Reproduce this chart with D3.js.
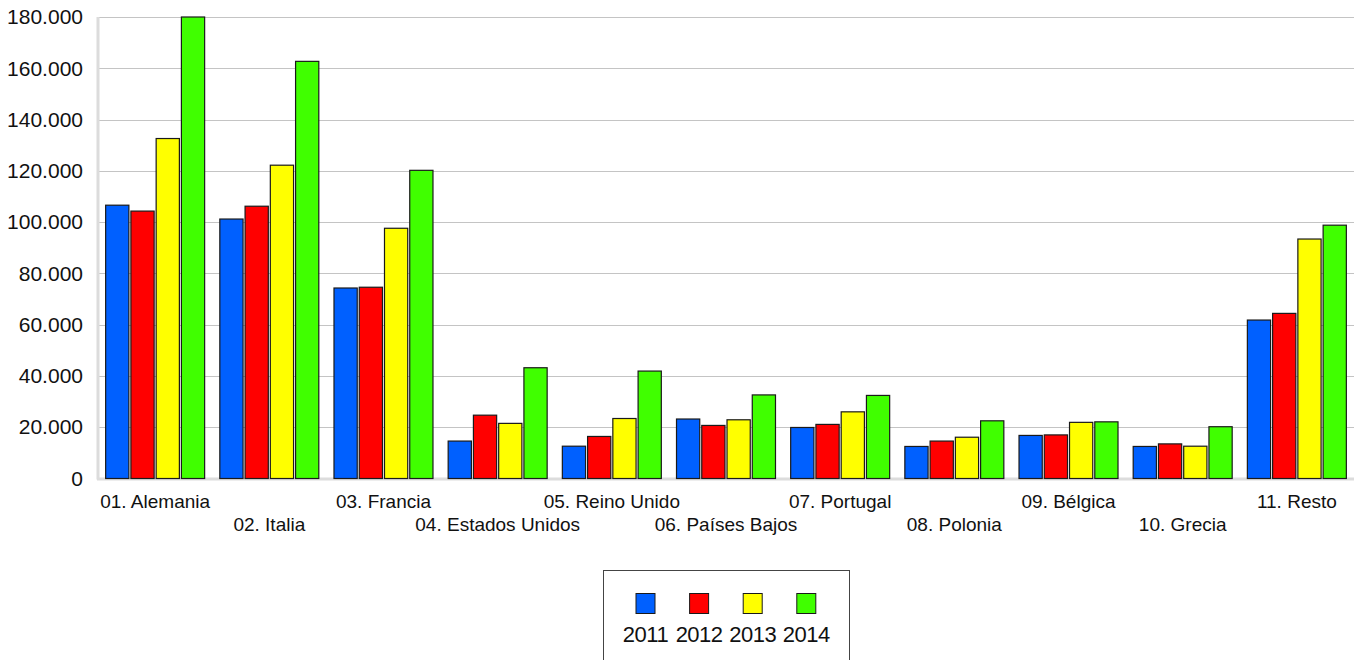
<!DOCTYPE html>
<html>
<head>
  <meta charset="utf-8">
  <title>Grouped bars</title>
  <script src="https://d3js.org/d3.v7.min.js"></script>
  <style>
    body { margin: 0; background: #fff; }
    text { font-family: "Liberation Sans", Arial, sans-serif; fill: #111; }
  </style>
</head>
<body>
<div id="chart"></div>
<script type="text/javascript">
  let w = 1354;
  let h = 660;

  let categories = ['01. Alemania', '02. Italia', '03. Francia', '04. Estados Unidos',
                    '05. Reino Unido', '06. Países Bajos', '07. Portugal', '08. Polonia',
                    '09. Bélgica', '10. Grecia', '11. Resto'];
  let years = ['2011', '2012', '2013', '2014'];
  let colors = ['#0060ff', '#ff0000', '#ffff00', '#40ff00'];

  let v2011 = [106600, 101200, 74300, 14600, 12600, 23200, 19900, 12500, 16800, 12500, 61800];
  let v2012 = [104300, 106200, 74600, 24700, 16400, 20700, 21100, 14600, 17000, 13500, 64400];
  let v2013 = [132600, 122200, 97600, 21500, 23400, 22900, 26000, 16100, 21900, 12600, 93400];
  let v2014 = [180000, 162700, 120200, 43200, 41900, 32600, 32400, 22500, 22100, 20200, 98800];
  let series = [v2011, v2012, v2013, v2014];

  let yTicks = d3.range(0, 180001, 20000);

  let plotLeft = 98, plotRight = 1354, plotTop = 17, plotBottom = 478.5;

  let xScale = d3.scaleBand()
                 .domain(categories)
                 .range([plotLeft, plotRight])
                 .paddingInner(0.133)
                 .paddingOuter(0.067);

  let xInner = d3.scaleBand()
                 .domain(years)
                 .range([0, xScale.bandwidth()])
                 .paddingInner(0.08)
                 .paddingOuter(0);

  let yScale = d3.scaleLinear()
                 .domain([0, 180000])
                 .range([plotBottom, plotTop]);

  let fmt = d => d3.format(',')(d).replace(/,/g, '.');

  let svg = d3.select('#chart')
              .append('svg')
              .attr('width', w)
              .attr('height', h);

  // grid
  svg.append('g')
     .selectAll('line')
     .data(yTicks.filter(d => d > 0))
     .enter()
     .append('line')
     .attr('x1', plotLeft)
     .attr('x2', plotRight)
     .attr('y1', d => Math.round(yScale(d)) + 0.5)
     .attr('y2', d => Math.round(yScale(d)) + 0.5)
     .attr('stroke', '#c4c4c4')
     .attr('stroke-width', 1);

  // y axis labels
  let yAxis = d3.axisLeft(yScale).tickValues(yTicks).tickFormat(fmt).tickSize(0).tickPadding(15);
  let gy = svg.append('g')
     .attr('transform', `translate(${plotLeft},0)`)
     .call(yAxis);
  gy.select('.domain').remove();
  gy.selectAll('text')
    .attr('font-size', '21px')
    .attr('font-family', '"Liberation Sans", Arial, sans-serif')
    .attr('fill', '#111');

  // axis lines
  svg.append('line')
     .attr('x1', plotLeft).attr('x2', plotLeft)
     .attr('y1', plotTop).attr('y2', plotBottom + 1)
     .attr('stroke', '#dcdcdc').attr('stroke-width', 3);
  svg.append('line')
     .attr('x1', plotLeft - 1).attr('x2', plotRight)
     .attr('y1', plotBottom + 0.5).attr('y2', plotBottom + 0.5)
     .attr('stroke', '#dcdcdc').attr('stroke-width', 3);

  // bars
  let groups = svg.append('g')
     .selectAll('g')
     .data(categories)
     .enter()
     .append('g')
     .attr('transform', d => `translate(${xScale(d)},0)`);

  groups.selectAll('rect')
     .data((c, i) => years.map((y, j) => ({ year: y, value: series[j][i], color: colors[j] })))
     .enter()
     .append('rect')
     .attr('x', d => xInner(d.year))
     .attr('y', d => yScale(d.value))
     .attr('width', xInner.bandwidth())
     .attr('height', d => yScale(0) - yScale(d.value))
     .attr('fill', d => d.color)
     .attr('stroke', '#1a1a1a')
     .attr('stroke-width', 1.2);

  // x labels, staggered
  svg.append('g')
     .selectAll('text')
     .data(categories)
     .enter()
     .append('text')
     .attr('x', d => xScale(d) + xScale.bandwidth() / 2)
     .attr('y', (d, i) => i % 2 === 0 ? 508 : 531)
     .attr('text-anchor', 'middle')
     .attr('font-size', '19px')
     .text(d => d);

  // legend
  svg.append('rect')
     .attr('x', 603.5).attr('y', 570.5)
     .attr('width', 246).attr('height', 120)
     .attr('fill', 'none')
     .attr('stroke', '#444')
     .attr('stroke-width', 1);

  let legend = svg.append('g')
     .selectAll('g')
     .data(years)
     .enter()
     .append('g')
     .attr('transform', (d, i) => `translate(${645.5 + i * 53.6},0)`);

  legend.append('rect')
     .attr('x', -9.5).attr('y', 593.5)
     .attr('width', 19).attr('height', 20)
     .attr('fill', (d, i) => colors[i])
     .attr('stroke', '#1a1a1a')
     .attr('stroke-width', 1);

  legend.append('text')
     .attr('x', 0)
     .attr('y', 642)
     .attr('text-anchor', 'middle')
     .attr('font-size', '22px')
     .attr('letter-spacing', '-0.5px')
     .text(d => d);
</script>
</body>
</html>
